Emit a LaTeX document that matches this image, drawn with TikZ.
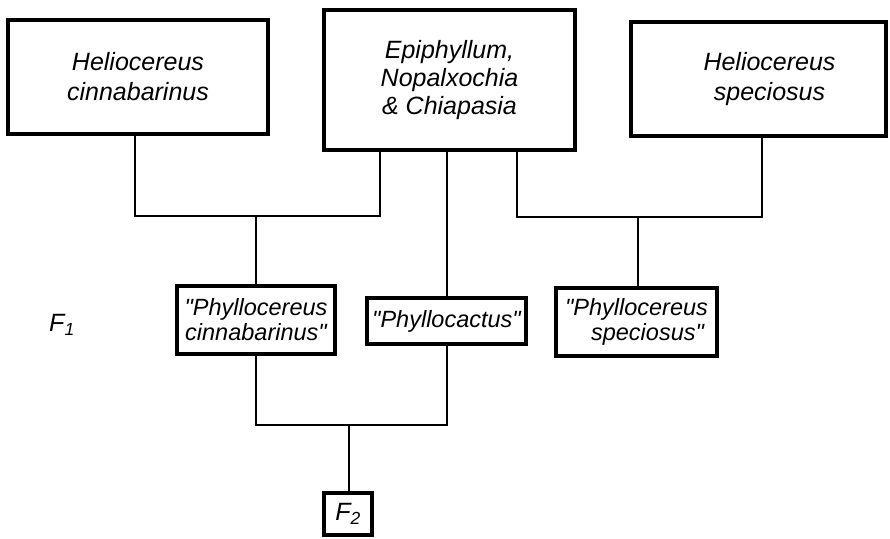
\documentclass[tikz,border=0pt]{standalone}
\usepackage{fontspec}
\setmainfont{Liberation Sans}[Ligatures=TeXOff]
\usetikzlibrary{calc}
\begin{document}
\begin{tikzpicture}[x=1pt,y=-1pt,
  bigbox/.style={draw,line width=3.2pt,inner sep=0pt,align=center,
    font=\fontsize{25}{30}\selectfont\itshape},
  midbox/.style={draw,line width=3.2pt,inner sep=0pt,align=center,
    font=\fontsize{23.5}{25}\selectfont\itshape},
  link/.style={line width=1.8pt}]
\useasboundingbox (0,0) rectangle (890,538);
\node[bigbox,minimum width=260pt,minimum height=114pt] (A) at (138,77)
  {Heliocereus\\cinnabarinus};
\node[bigbox,minimum width=251pt,minimum height=140pt,
  font=\fontsize{25}{28}\selectfont\itshape] (B) at (449.5,80)
  {Epiphyllum,\\Nopalxochia\\\& Chiapasia};
\node[bigbox,minimum width=255pt,minimum height=114pt] (C) at (758.5,79)
  {\hspace*{22pt}Heliocereus\\\hspace*{22pt}speciosus};
\node[midbox,minimum width=158pt,minimum height=68pt] (D) at (256,320)
  {"Phyllocereus\\cinnabarinus"};
\node[midbox,minimum width=159pt,minimum height=46pt] (E) at (446.5,321)
  {"Phyllocactus"};
\node[midbox,minimum width=161pt,minimum height=68pt,align=right] (F) at (636.5,322)
  {"Phyllocereus\\speciosus"\hspace*{4pt}};
\node[draw,line width=3.2pt,minimum width=48pt,minimum height=42pt,inner sep=0pt,
  font=\fontsize{25}{30}\selectfont\itshape] (F2) at (348,514) {F\textsubscript{2}};
\node[font=\fontsize{25}{30}\selectfont\itshape] (F1) at (62,325) {F\textsubscript{1}};
% junctions
\coordinate (j1) at (256,216);
\coordinate (j2) at (638,217);
\coordinate (j3) at (349,425);
\draw[link] (A.south -| 135,0) |- (j1) -| (B.south -| 380,0);
\draw[link] (j1) -- (D.north -| j1);
\draw[link] (B.south -| 517,0) |- (j2) -| (C.south -| 762,0);
\draw[link] (j2) -- (F.north -| j2);
\draw[link] (B.south -| 447,0) -- (E.north -| 447,0);
\draw[link] (D.south) |- (j3) -| (E.south -| 447,0);
\draw[link] (j3) -- (F2.north -| j3);
\end{tikzpicture}
\end{document}
